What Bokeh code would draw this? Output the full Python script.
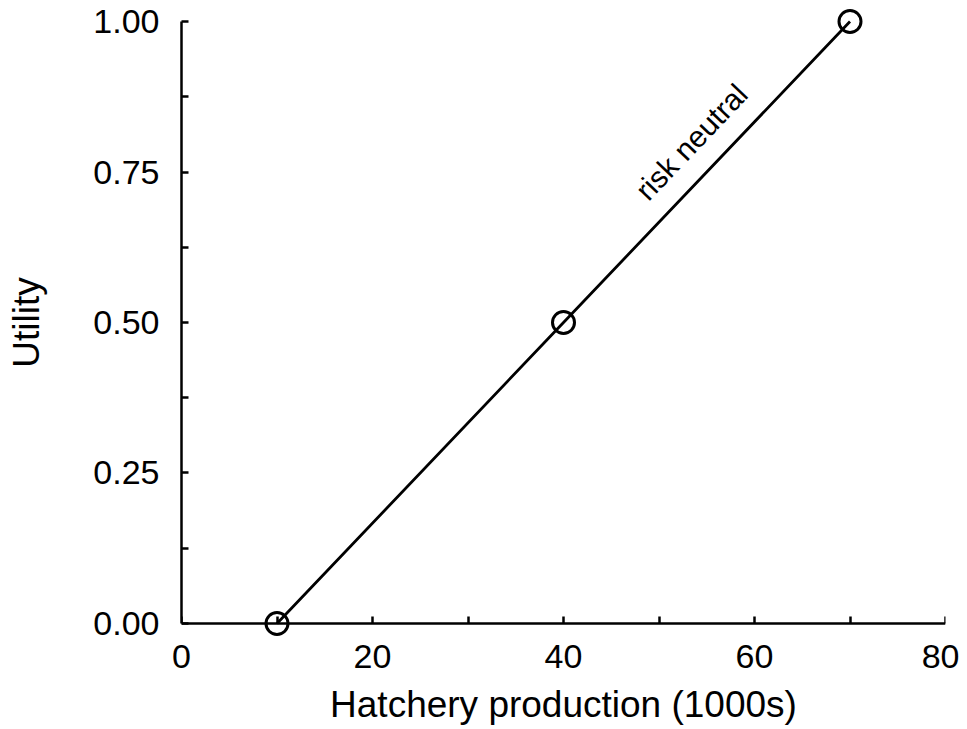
from bokeh.plotting import figure
from bokeh.models import Range1d, FixedTicker, ColumnDataSource, LinearAxis
from bokeh.core.properties import value
from bokeh.embed import file_html
from bokeh.resources import INLINE
import math

# data
production = [10, 40, 70]
utility = [0.0, 0.5, 1.0]
x_major = [0, 20, 40, 60, 80]
x_all_ticks = [0, 10, 20, 30, 40, 50, 60, 70, 80]
y_major = [0.0, 0.25, 0.5, 0.75, 1.0]
y_minor = [0.125, 0.375, 0.625, 0.875]
y_tick_labels = ["0.00", "0.25", "0.50", "0.75", "1.00"]
label_text = ["risk neutral"]
label_x = [53.4]
label_y = [0.80]

FONT = "Liberation Sans"
PAD = 0.0216  # room so the end markers are not clipped by the frame

p = figure(width=959, height=729, output_backend="svg", toolbar_location=None,
           x_range=Range1d(0, 80), y_range=Range1d(-PAD, 1 + PAD),
           min_border_left=181, min_border_right=14, min_border_top=8, min_border_bottom=93)
p.outline_line_color = None
p.grid.visible = False
p.background_fill_color = "white"
p.border_fill_color = "white"

src = ColumnDataSource(dict(x=production, y=utility))
p.line("x", "y", source=src, line_color="black", line_width=2.8)
p.scatter("x", "y", source=src, marker="circle", size=22, fill_color=None,
          line_color="black", line_width=3)

lsrc = ColumnDataSource(dict(x=label_x, y=label_y, t=label_text))
p.text("x", "y", text="t", source=lsrc, angle=math.radians(46.4), text_align="center",
       text_baseline="middle", text_font=value(FONT), text_font_size="30px", text_color="black")

def style_lines(ax):
    ax.axis_line_width = 2.5
    ax.axis_line_color = "black"
    ax.major_tick_in = 7
    ax.major_tick_out = 0
    ax.minor_tick_in = 7
    ax.minor_tick_out = 0
    ax.major_tick_line_width = 2.5
    ax.minor_tick_line_width = 2.5
    ax.major_tick_line_color = "black"
    ax.minor_tick_line_color = "black"

def style_text(ax, lbl):
    ax.axis_label = lbl
    ax.major_label_text_font = FONT
    ax.major_label_text_font_size = "34px"
    ax.major_label_text_color = "black"
    ax.axis_label_text_font = FONT
    ax.axis_label_text_font_size = "37px"
    ax.axis_label_text_font_style = "normal"
    ax.axis_label_text_color = "black"

# y axis: line, ticks and labels
yax = p.yaxis[0]
yax.ticker = FixedTicker(ticks=y_major, minor_ticks=y_minor)
style_lines(yax)
style_text(yax, "Utility")
yax.bounds = (0, 1)
yax.major_label_standoff = 22
yax.axis_label_standoff = 43
yax.major_label_overrides = dict(zip(y_major, y_tick_labels))

# x axis at frame bottom: tick labels and title only
xax = p.xaxis[0]
xax.ticker = FixedTicker(ticks=x_major)
style_text(xax, "Hatchery production (1000s)")
xax.axis_line_color = None
xax.major_tick_line_color = None
xax.minor_tick_line_color = None
xax.major_label_standoff = 2
xax.axis_label_standoff = 13

# x axis line and ticks drawn at y = 0 (no labels)
xline = LinearAxis(fixed_location=0, bounds=(0, 80),
                   ticker=FixedTicker(ticks=[], minor_ticks=x_all_ticks))
style_lines(xline)
xline.major_label_standoff = 0
xline.axis_label_standoff = 0
p.add_layout(xline, "below")

open("out.html", "w").write(file_html(p, INLINE))
